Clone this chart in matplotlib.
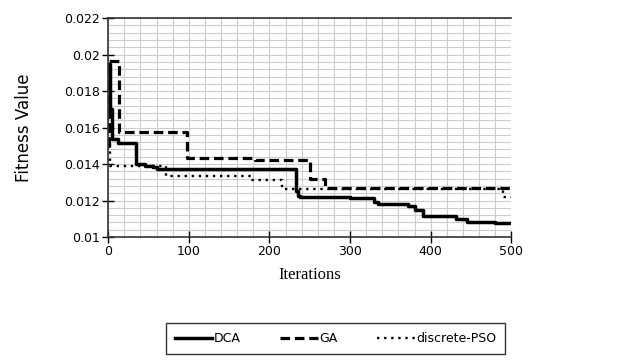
import numpy as np
import matplotlib
matplotlib.use("Agg")
import matplotlib.pyplot as plt
from matplotlib.ticker import MultipleLocator

# step-wise best fitness per iteration (value holds until next x)
dca_x = [0, 2, 5, 12, 35, 45, 55, 60, 233, 235, 238, 300, 330, 335, 372, 380, 390, 432, 445, 480, 500]
dca_y = [0.0195, 0.0170, 0.01535, 0.01515, 0.01403, 0.0139, 0.01385, 0.01373, 0.0125, 0.01225, 0.01222,
         0.01215, 0.0119, 0.01183, 0.0117, 0.0115, 0.01117, 0.01099, 0.01081, 0.01077, 0.01077]
ga_x = [0, 1, 13, 98, 182, 250, 269, 500]
ga_y = [0.0150, 0.01966, 0.01574, 0.01436, 0.01421, 0.01319, 0.0127, 0.0127]
pso_x = [0, 2, 72, 177, 215, 490, 500]
pso_y = [0.0165, 0.01391, 0.01333, 0.01313, 0.01261, 0.0122, 0.0122]

x_ticks = [0, 100, 200, 300, 400, 500]
y_ticks = [0.01, 0.012, 0.014, 0.016, 0.018, 0.02, 0.022]
y_labels = ["0.01", "0.012", "0.014", "0.016", "0.018", "0.02", "0.022"]

fig = plt.figure(figsize=(6.22, 3.63), dpi=100)
ax = fig.add_axes([0.174, 0.347, 0.648, 0.603])

ax.step(dca_x, dca_y, where="post", color="black", lw=2.5, ls="-", label="DCA")
ax.step(ga_x, ga_y, where="post", color="black", lw=2.3, ls=(0, (3, 1.5)), label="GA")
ax.step(pso_x, pso_y, where="post", color="black", lw=1.7, ls=(0, (1, 2)), label="discrete-PSO")

ax.set_xlim(0, 500)
ax.set_ylim(0.01, 0.022)
ax.set_xticks(x_ticks)
ax.set_yticks(y_ticks)
ax.set_yticklabels(y_labels)
ax.xaxis.set_minor_locator(MultipleLocator(20))
ax.yaxis.set_minor_locator(MultipleLocator(0.0004))
ax.grid(which="both", color="#cccccc", lw=0.8)
ax.set_axisbelow(True)
ax.tick_params(which="major", direction="inout", length=8, width=1, labelsize=9, colors="black", pad=2)
ax.tick_params(which="minor", length=0)
ax.spines["right"].set_visible(False)
for s in ["left", "bottom", "top"]:
    ax.spines[s].set_linewidth(1.2)
    ax.spines[s].set_color("#333333")

ax.set_ylabel("Fitness Value", fontsize=12, labelpad=22)
ax.set_xlabel("Iterations", fontsize=12, family="Liberation Serif", labelpad=6)

leg = fig.legend(loc="lower left", bbox_to_anchor=(0.257, 0.008, 0.565, 0.1), mode="expand",
                 ncol=3, fontsize=9, frameon=True, fancybox=False, edgecolor="black",
                 handlelength=3.0, handletextpad=0.1, borderpad=0.7)
leg.get_frame().set_linewidth(1.0)

fig.savefig("out.png", dpi=100)
